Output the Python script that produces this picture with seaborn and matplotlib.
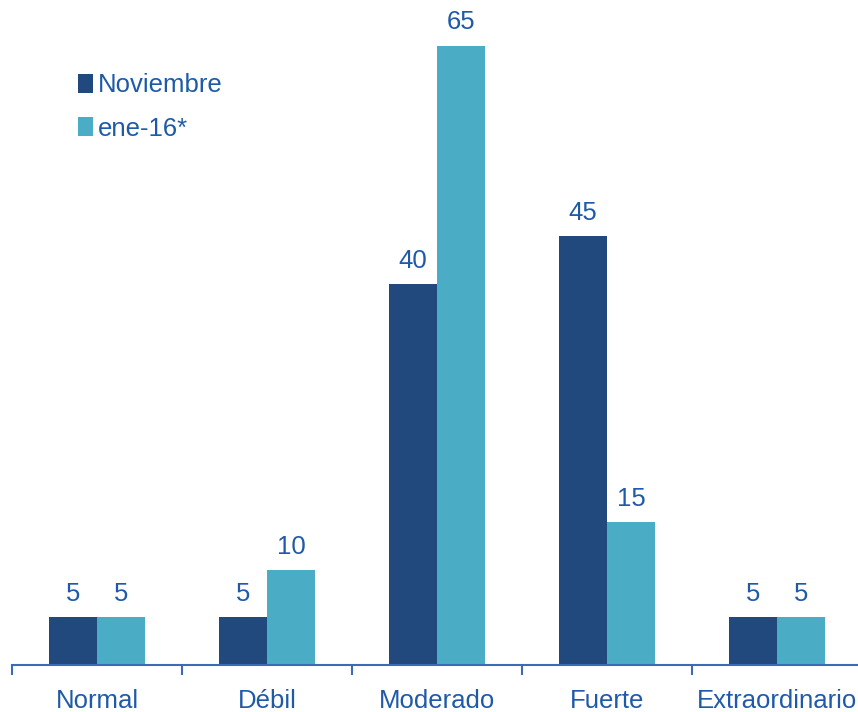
import matplotlib
matplotlib.use("Agg")
import matplotlib.pyplot as plt
import seaborn as sns
import pandas as pd
from matplotlib.patches import Patch

categories = ["Normal", "Débil", "Moderado", "Fuerte", "Extraordinario"]
series_names = ["Noviembre", "ene-16*"]
noviembre = [5, 5, 40, 45, 5]
ene16 = [5, 10, 65, 15, 5]

colors = ["#21497D", "#4BACC6"]
text_color = "#1E5AA8"
axis_color = "#3A6BB5"

df = pd.DataFrame({
    "categoria": categories * 2,
    "serie": [series_names[0]] * len(categories) + [series_names[1]] * len(categories),
    "valor": noviembre + ene16,
})

sns.set_theme(style="white")
plt.rcParams["font.family"] = ["Liberation Sans", "DejaVu Sans"]

fig = plt.figure(figsize=(8.58, 7.12), dpi=100)
ax = fig.add_axes([12 / 858, 47 / 712, 850 / 858, 648 / 712])

sns.barplot(data=df, x="categoria", y="valor", hue="serie", order=categories,
            hue_order=series_names, palette=colors, width=0.57, linewidth=0,
            saturation=1, ax=ax, legend=False)

# value labels above each bar
for container in ax.containers:
    ax.bar_label(container, fmt="%d", padding=8, fontsize=18.5, color=text_color)

ax.set_xlim(-0.5, len(categories) - 0.5)
ax.set_ylim(0, 68)
ax.set_xlabel("")
ax.set_ylabel("")
ax.set_yticks([])

for side in ["top", "right", "left"]:
    ax.spines[side].set_visible(False)
ax.spines["bottom"].set_color(axis_color)
ax.spines["bottom"].set_linewidth(1.5)

# category labels centred, tick marks between categories
ax.set_xticks(range(len(categories)))
ax.set_xticklabels(categories, fontsize=18.5, color=text_color)
ax.tick_params(axis="x", which="major", length=0, pad=17)
ax.set_xticks([i - 0.5 for i in range(len(categories) + 1)], minor=True)
ax.tick_params(axis="x", which="minor", length=7, width=1.5, color=axis_color,
               direction="out", bottom=True)

handles = [Patch(facecolor=c, edgecolor="none", label=n) for c, n in zip(colors, series_names)]
leg = ax.legend(handles=handles, loc="upper left", bbox_to_anchor=(0.066, 0.929),
                frameon=False, fontsize=18.5, handlelength=0.55, handleheight=0.75,
                handletextpad=0.2, labelspacing=0.75, borderaxespad=0)
for t in leg.get_texts():
    t.set_color(text_color)

fig.savefig("out.png", dpi=100)
